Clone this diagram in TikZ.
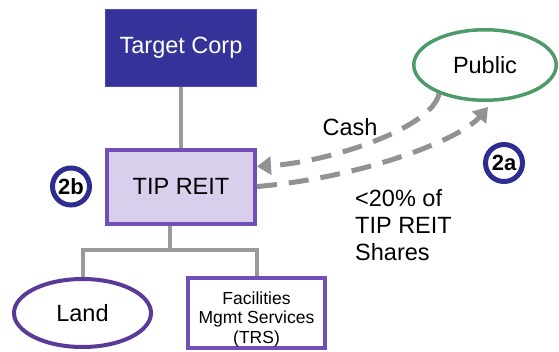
\documentclass[tikz,border=0pt]{standalone}
\usepackage{fontspec}
\setmainfont{Liberation Sans}
\usetikzlibrary{shapes.geometric,arrows.meta,calc}
\definecolor{tgtblue}{HTML}{35339A}
\definecolor{tgtedge}{HTML}{4B48B0}
\definecolor{reitfill}{HTML}{D9CEEB}
\definecolor{reitedge}{HTML}{7050B8}
\definecolor{landedge}{HTML}{5A3A98}
\definecolor{pubedge}{HTML}{4F9A6B}
\definecolor{numedge}{HTML}{2F2C90}
\definecolor{linegray}{HTML}{9A9A9A}
\definecolor{arrowgray}{HTML}{929292}
\begin{document}
\begin{tikzpicture}[x=1pt,y=-1pt,
  bigtext/.style={font=\fontsize{23.5}{27}\selectfont},
  smalltext/.style={font=\fontsize{17.5}{19.5}\selectfont},
  tgtbox/.style={rectangle, fill=tgtblue, draw=tgtedge, line width=1, minimum width=151, minimum height=77, inner sep=0, text=white, bigtext},
  reitbox/.style={rectangle, fill=reitfill, draw=reitedge, line width=4, minimum width=148, minimum height=74, inner sep=0, bigtext},
  landell/.style={ellipse, draw=landedge, line width=4, fill=white, minimum width=137, minimum height=68, inner sep=0, bigtext},
  trsbox/.style={rectangle, draw=reitedge, line width=4, fill=white, minimum width=137, minimum height=70, inner sep=0},
  publicell/.style={ellipse, draw=pubedge, line width=3.5, fill=white, minimum width=142.5, minimum height=70.5, inner sep=0, bigtext},
  numcircle/.style={circle, draw=numedge, line width=5, fill=white, minimum size=37, inner sep=0, font=\bfseries\fontsize{22}{22}\selectfont},
  tree/.style={draw=linegray, line width=4},
  flow/.style={draw=arrowgray, line width=5, dash pattern=on 20pt off 12pt, -{Triangle[length=14pt,width=18pt]}}
]
\useasboundingbox (0,0) rectangle (559,351);
\node[tgtbox] (tgt) at (181,48) {Target Corp};
\node[reitbox] (tip) at (181,186.5) {TIP REIT};
\node[landell] (land) at (82.5,313) {Land};
\node[trsbox] (trs) at (256.5,313) {};
\node[smalltext, align=center, inner sep=0] (trstxt) at ($(trs.center)+(0,6)$) {Facilities\\Mgmt Services\\(TRS)};
\node[publicell] (pub) at (485,65) {Public};
\coordinate (fork) at (170,250);
\draw[tree] (tgt.south) -- (tip.north);
\draw[tree] (tip.south -| fork) -- (fork);
\draw[tree] (land.north) |- (fork) -| (trs.north);
\draw[flow] (pub.212) .. controls (432,128) and (330,162) .. ($(tip.east)+(0,-20)$);
\draw[flow] (tip.east) .. controls (360,178) and (460,140) .. ($(pub.south)+(3,5)$);
\node[bigtext] (cash) at (350,127) {Cash};
\node[bigtext, align=left, anchor=base west, inner sep=0] (shares) at (355,260) {<20\% of\\TIP REIT\\Shares};
\node[numcircle] (n2b) at (71,186.5) {2b};
\node[numcircle] (n2a) at (504,163) {2a};
\end{tikzpicture}
\end{document}
